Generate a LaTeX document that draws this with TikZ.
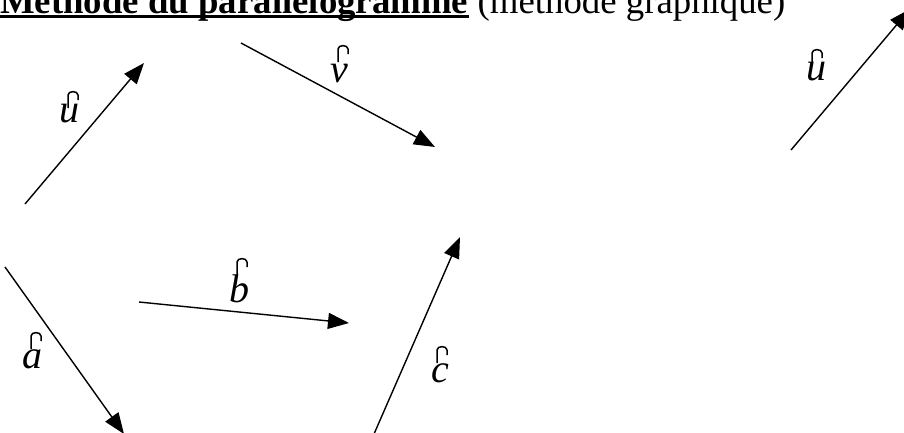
\documentclass[tikz,border=0pt]{standalone}
\usepackage{fontspec}
\setmainfont{Liberation Serif}
\usetikzlibrary{arrows.meta}
\tikzset{
  vec/.style={line width=1.4pt, -{Triangle[length=21pt,width=16pt]}},
  lbl/.style={inner sep=0pt, anchor=base, font=\fontsize{40}{44}\selectfont\itshape},
  vmark/.pic={
    \draw[line width=1.5pt] (0,17) -- (0,4) .. controls (0,-0.5) and (10,-0.5) .. (10,4) -- (10,9);
  }
}
\begin{document}
\begin{tikzpicture}[x=1pt,y=-1pt]
\useasboundingbox (0,0) rectangle (904,432);
\clip (0,0) rectangle (904,432);
% title
\node[inner sep=0pt, anchor=base west, font=\fontsize{36.8}{40}\selectfont\bfseries] (title) at (0,13.5) {Méthode du parallélogramme};
\draw[line width=3pt] ([yshift=-3pt]title.base west) -- ([yshift=-3pt]title.base east);
\node[inner sep=0pt, anchor=base west, font=\fontsize{36.8}{40}\selectfont] (sub) at ([xshift=9pt]title.base east) {(méthode graphique)};
% end points
\coordinate (u1t) at (25,204);  \coordinate (u1h) at (144,63);
\coordinate (vt)  at (241,43);  \coordinate (vh)  at (435,147);
\coordinate (u2t) at (791,150); \coordinate (u2h) at (910,9);
\coordinate (at)  at (5,267);   \coordinate (ah)  at (124,434);
\coordinate (bt)  at (139,302); \coordinate (bh)  at (349,323);
\coordinate (ct)  at (374,434); \coordinate (ch)  at (460,237);
% vectors
\draw[vec] (u1t) -- (u1h);
\draw[vec] (vt) -- (vh);
\draw[vec] (u2t) -- (u2h);
\draw[vec] (at) -- (ah);
\draw[vec] (bt) -- (bh);
\draw[vec] (ct) -- (ch);
% labels
\node[lbl] (lu1) at (69.5,122) {u};
\node[lbl] (lv)  at (339,82)   {v};
\node[lbl] (lu2) at (816,80)   {u};
\node[lbl] (la)  at (33,368)   {a};
\node[lbl] (lb)  at (239,302)  {b};
\node[lbl] (lc)  at (440,382)  {c};
% broken vector marks
\pic at (68,91)   {vmark};
\pic at (338,45)  {vmark};
\pic at (812,49)  {vmark};
\pic at (31,332)  {vmark};
\pic at (237,258) {vmark};
\pic at (437,346) {vmark};
\end{tikzpicture}
\end{document}
